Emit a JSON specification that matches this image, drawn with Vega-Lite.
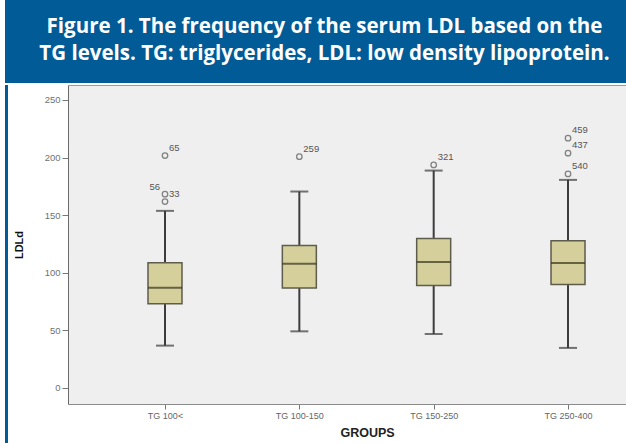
{
  "$schema": "https://vega.github.io/schema/vega-lite/v6.json",
  "background": "white",
  "padding": {"left": 5, "top": 0, "right": 0, "bottom": 0},
  "spacing": 2,
  "config": {"view": {"stroke": null}},
  "datasets": {
    "boxes": [
      {"group": "TG 100<", "lower": 36.7, "q1": 73.1, "median": 87.0, "q3": 108.6, "upper": 153.7},
      {"group": "TG 100-150", "lower": 49.1, "q1": 86.7, "median": 107.8, "q3": 123.6, "upper": 170.5},
      {"group": "TG 150-250", "lower": 46.8, "q1": 89.0, "median": 109.3, "q3": 129.7, "upper": 188.7},
      {"group": "TG 250-400", "lower": 34.7, "q1": 89.8, "median": 108.4, "q3": 127.7, "upper": 180.6}
    ],
    "outliers": [
      {"group": "TG 100<", "value": 201.7, "label": "65"},
      {"group": "TG 100<", "value": 168.2, "label": "56"},
      {"group": "TG 100<", "value": 161.8, "label": "33"},
      {"group": "TG 100-150", "value": 200.8, "label": "259"},
      {"group": "TG 150-250", "value": 193.6, "label": "321"},
      {"group": "TG 250-400", "value": 216.8, "label": "459"},
      {"group": "TG 250-400", "value": 203.8, "label": "437"},
      {"group": "TG 250-400", "value": 185.8, "label": "540"}
    ],
    "caption": [
      {"text": "Figure 1. The frequency of the serum LDL based on the\nTG levels. TG: triglycerides, LDL: low density lipoprotein."}
    ]
  },
  "vconcat": [
    {
      "width": 621,
      "height": 83,
      "view": {"fill": "#005b96", "stroke": null},
      "data": {"name": "caption"},
      "mark": {"type": "text", "lineBreak": "\n", "font": "Open Sans", "fontWeight": "bold", "fontSize": 20.5, "color": "white", "align": "center", "baseline": "middle", "lineHeight": 27, "dx": 9, "dy": -15},
      "encoding": {"text": {"field": "text"}}
    },
    {
      "spacing": 5,
      "hconcat": [
        {
          "width": 3,
          "height": 358,
          "view": {"fill": "#005b96", "stroke": null},
          "data": {"values": [{"a": 1}]},
          "mark": {"type": "rect", "color": "#005b96"},
          "encoding": {}
        },
        {
          "width": 561,
          "height": 319,
          "view": {"fill": "#efefef", "stroke": null},
          "resolve": {"axis": {"x": "independent"}},
          "layer": [
            {
              "data": {"name": "boxes"},
              "mark": {"type": "rule", "color": "#3c3c3c", "strokeWidth": 2},
              "encoding": {
                "x": {"field": "group", "type": "nominal", "sort": null,
                  "scale": {"type": "point", "padding": 0.588, "align": 0.614},
                  "axis": {"title": "GROUPS", "titleFontSize": 12.5, "titleFontWeight": "bold", "titleColor": "#222", "titleFont": "Liberation Sans", "titleX": 299, "titlePadding": 6,
                    "labelFont": "Liberation Sans", "labelFontSize": 9, "labelColor": "#666", "labelAngle": 0, "labelPadding": 2,
                    "tickSize": 5, "tickColor": "#777", "domainColor": "#8a8a8a", "grid": false}},
                "y": {"field": "lower", "type": "quantitative",
                  "scale": {"domain": [-14, 263], "nice": false, "zero": false},
                  "axis": {"title": "LDLd", "values": [0, 50, 100, 150, 200, 250], "titleFont": "Liberation Sans", "titleFontSize": 11, "titleFontWeight": "bold", "titleColor": "#111", "titlePadding": 20,
                    "labelFont": "Liberation Sans", "labelFontSize": 9.5, "labelColor": "#707070", "labelPadding": 2,
                    "tickSize": 6, "tickColor": "#777", "domainColor": "#6a6a6a", "grid": false}},
                "y2": {"field": "upper"}
              }
            },
            {
              "data": {"name": "boxes"},
              "mark": {"type": "tick", "color": "#3c3c3c", "size": 18, "thickness": 2},
              "encoding": {
                "x": {"field": "group", "type": "nominal", "sort": null, "axis": null},
                "y": {"field": "lower", "type": "quantitative"}
              }
            },
            {
              "data": {"name": "boxes"},
              "mark": {"type": "tick", "color": "#3c3c3c", "size": 18, "thickness": 2},
              "encoding": {
                "x": {"field": "group", "type": "nominal", "sort": null, "axis": null},
                "y": {"field": "upper", "type": "quantitative"}
              }
            },
            {
              "data": {"name": "boxes"},
              "mark": {"type": "bar", "fill": "#d5cf9c", "stroke": "#5e5c4c", "strokeWidth": 1.5, "size": 34},
              "encoding": {
                "x": {"field": "group", "type": "nominal", "sort": null, "axis": null},
                "y": {"field": "q1", "type": "quantitative"},
                "y2": {"field": "q3"}
              }
            },
            {
              "data": {"name": "boxes"},
              "mark": {"type": "tick", "color": "#36341c", "size": 34, "thickness": 2},
              "encoding": {
                "x": {"field": "group", "type": "nominal", "sort": null, "axis": null},
                "y": {"field": "median", "type": "quantitative"}
              }
            },
            {
              "data": {"name": "outliers"},
              "mark": {"type": "point", "shape": "circle", "filled": false, "size": 30, "stroke": "#555", "strokeWidth": 1.3},
              "encoding": {
                "x": {"field": "group", "type": "nominal", "sort": null,
                  "axis": {"orient": "top", "labels": false, "ticks": false, "title": null, "domainColor": "#9a9a9a", "grid": false}},
                "y": {"field": "value", "type": "quantitative"}
              }
            },
            {
              "data": {"name": "outliers"},
              "transform": [{"filter": "datum.label !== '56'"}],
              "mark": {"type": "text", "align": "left", "baseline": "middle", "dx": 4, "dy": -8, "font": "Liberation Sans", "fontSize": 9.5, "color": "#555"},
              "encoding": {
                "x": {"field": "group", "type": "nominal", "sort": null, "axis": null},
                "y": {"field": "value", "type": "quantitative"},
                "text": {"field": "label"}
              }
            },
            {
              "data": {"name": "outliers"},
              "transform": [{"filter": "datum.label === '56'"}],
              "mark": {"type": "text", "align": "right", "baseline": "middle", "dx": -5, "dy": -7, "font": "Liberation Sans", "fontSize": 9.5, "color": "#555"},
              "encoding": {
                "x": {"field": "group", "type": "nominal", "sort": null, "axis": null},
                "y": {"field": "value", "type": "quantitative"},
                "text": {"field": "label"}
              }
            }
          ]
        }
      ]
    }
  ]
}
